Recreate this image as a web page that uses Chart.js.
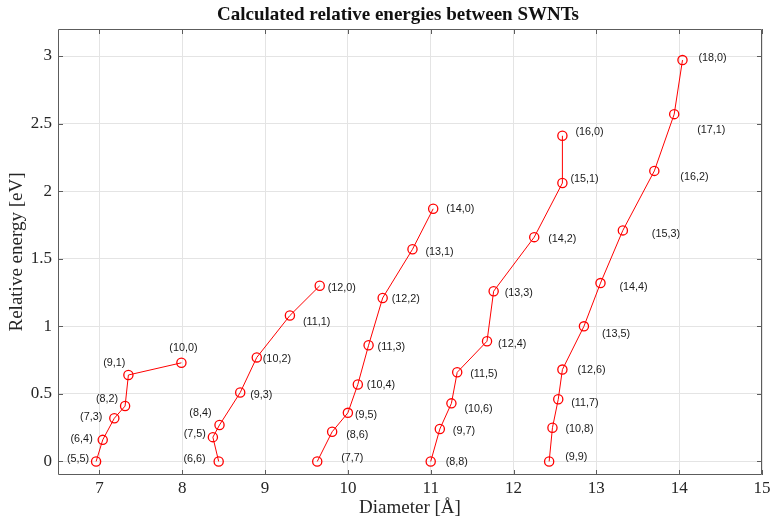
<!DOCTYPE html>
<html>
<head>
<meta charset="utf-8">
<script src="https://cdn.jsdelivr.net/npm/chart.js@4/dist/chart.umd.min.js"></script>
<style>
html,body{margin:0;padding:0;background:#fff;}
#wrap{width:774px;height:518px;}
</style>
</head>
<body>
<div id="wrap"><canvas id="c" width="774" height="518"></canvas></div>
<script>
// ---- Data ----
const xTicks = [7, 8, 9, 10, 11, 12, 13, 14, 15];
const yTicks = [0, 0.5, 1, 1.5, 2, 2.5, 3];

const s1Labels = ['(5,5)','(6,4)','(7,3)','(8,2)','(9,1)','(10,0)'];
const s1X = [6.96, 7.04, 7.18, 7.31, 7.35, 7.99];
const s1Y = [0, 0.16, 0.32, 0.41, 0.64, 0.73];

const s2Labels = ['(6,6)','(7,5)','(8,4)','(9,3)','(10,2)','(11,1)','(12,0)'];
const s2X = [8.44, 8.37, 8.45, 8.70, 8.90, 9.30, 9.66];
const s2Y = [0, 0.18, 0.27, 0.51, 0.77, 1.08, 1.30];

const s3Labels = ['(7,7)','(8,6)','(9,5)','(10,4)','(11,3)','(12,2)','(13,1)','(14,0)'];
const s3X = [9.63, 9.81, 10.00, 10.12, 10.25, 10.42, 10.78, 11.03];
const s3Y = [0, 0.22, 0.36, 0.57, 0.86, 1.21, 1.57, 1.87];

const s4Labels = ['(8,8)','(9,7)','(10,6)','(11,5)','(12,4)','(13,3)','(14,2)','(15,1)','(16,0)'];
const s4X = [11.00, 11.11, 11.25, 11.32, 11.68, 11.76, 12.25, 12.59, 12.59];
const s4Y = [0, 0.24, 0.43, 0.66, 0.89, 1.26, 1.66, 2.06, 2.41];

const s5Labels = ['(9,9)','(10,8)','(11,7)','(12,6)','(13,5)','(14,4)','(15,3)','(16,2)','(17,1)','(18,0)'];
const s5X = [12.43, 12.47, 12.54, 12.59, 12.85, 13.05, 13.32, 13.70, 13.94, 14.04];
const s5Y = [0, 0.25, 0.46, 0.68, 1.00, 1.32, 1.71, 2.15, 2.57, 2.97];

const seriesX = [s1X, s2X, s3X, s4X, s5X];
const seriesY = [s1Y, s2Y, s3Y, s4Y, s5Y];
const seriesLabels = [s1Labels, s2Labels, s3Labels, s4Labels, s5Labels];

// ---- Label placement (style only: pixel offsets from each marker) ----
const labelOffsets = [
  [['r',-7,-2],['r',-10,-1],['r',-12,-1],['r',-7,-7],['r',-3,-12],['c',2,-15]],
  [['r',-13,-2],['r',-7,-3],['r',-8,-12],['l',10,2],['l',6,2],['l',13,7],['l',8,2]],
  [['l',24,-3],['l',14,3],['l',7,2],['l',9,1],['l',9,2],['l',9,1],['l',13,3],['l',13,0]],
  [['l',15,1],['l',13,2],['l',13,6],['l',13,2],['l',11,3],['l',11,2],['l',14,2],['l',8,-4],['l',13,-4]],
  [['l',16,-4],['l',13,1],['l',13,4],['l',15,0],['l',18,8],['l',19,4],['l',29,4],['l',26,6],['l',23,16],['l',16,-2]]
];

const RED = '#ff0000';
const datasets = seriesX.map((xs, i) => ({
  data: xs.map((v, j) => ({x: v, y: seriesY[i][j]})),
  borderColor: RED,
  borderWidth: 1,
  pointRadius: 4.6,
  pointHoverRadius: 4.6,
  pointBorderWidth: 1.3,
  pointBorderColor: RED,
  pointBackgroundColor: 'rgba(0,0,0,0)',
  tension: 0,
  showLine: true,
  fill: false
}));

const BOX = '#5c5c5c';
const annot = {
  id: 'annot',
  afterDraw(chart) {
    const ctx = chart.ctx;
    const a = chart.chartArea;
    const xs = chart.scales.x, ys = chart.scales.y;
    ctx.save();
    // box
    ctx.strokeStyle = BOX;
    ctx.lineWidth = 1;
    ctx.beginPath();
    ctx.rect(Math.round(a.left) + 0.5, Math.round(a.top) + 0.5,
             Math.round(a.right - a.left) - 1, Math.round(a.bottom - a.top) - 1);
    ctx.stroke();
    // inward ticks
    const TL = 5;
    ctx.beginPath();
    xTicks.forEach(v => {
      const px = Math.round(xs.getPixelForValue(v)) + 0.5;
      ctx.moveTo(px, a.bottom); ctx.lineTo(px, a.bottom - TL);
      ctx.moveTo(px, a.top); ctx.lineTo(px, a.top + TL);
    });
    yTicks.forEach(v => {
      const py = Math.round(ys.getPixelForValue(v)) + 0.5;
      ctx.moveTo(a.left, py); ctx.lineTo(a.left + TL, py);
      ctx.moveTo(a.right, py); ctx.lineTo(a.right - TL, py);
    });
    ctx.stroke();

    // point labels
    ctx.fillStyle = '#1a1a1a';
    ctx.font = '10.8px "Liberation Sans", Arial, sans-serif';
    ctx.textBaseline = 'middle';
    chart.data.datasets.forEach((ds, i) => {
      const meta = chart.getDatasetMeta(i);
      meta.data.forEach((pt, j) => {
        const [al, dx, dy] = labelOffsets[i][j];
        ctx.textAlign = al === 'r' ? 'right' : (al === 'c' ? 'center' : 'left');
        ctx.fillText(seriesLabels[i][j], pt.x + dx, pt.y + dy);
      });
    });

    // titles
    ctx.fillStyle = '#111';
    ctx.textAlign = 'center';
    ctx.textBaseline = 'middle';
    ctx.font = 'bold 19px "Liberation Serif", "Times New Roman", serif';
    ctx.fillText('Calculated relative energies between SWNTs', (a.left + a.right) / 2 - 12, 15);
    ctx.fillStyle = '#262626';
    ctx.font = '19px "Liberation Serif", "Times New Roman", serif';
    ctx.fillText('Diameter [Å]', (a.left + a.right) / 2, 508);
    ctx.save();
    ctx.translate(17, (a.top + a.bottom) / 2);
    ctx.rotate(-Math.PI / 2);
    ctx.fillText('Relative energy [eV]', 0, 0);
    ctx.restore();
    ctx.restore();
  }
};

const tickFont = { family: '"Liberation Serif", "Times New Roman", serif', size: 17 };

new Chart(document.getElementById('c'), {
  type: 'scatter',
  data: { datasets },
  options: {
    responsive: false,
    devicePixelRatio: 1,
    animation: false,
    layout: { padding: { top: 29, right: 12, left: 0, bottom: 0 } },
    plugins: { legend: { display: false }, tooltip: { enabled: false }, title: { display: false } },
    scales: {
      x: {
        type: 'linear', min: 6.5, max: 15,
        afterBuildTicks: s => { s.ticks = xTicks.map(v => ({ value: v })); },
        afterFit: s => { s.height = 43; },
        grid: { color: '#e4e4e4', lineWidth: 1, drawTicks: false },
        border: { display: false },
        ticks: { padding: 3, color: '#262626', font: tickFont, callback: v => String(v) }
      },
      y: {
        type: 'linear', min: -0.1, max: 3.2,
        afterBuildTicks: s => { s.ticks = yTicks.map(v => ({ value: v })); },
        afterFit: s => { s.width = 58; },
        grid: { color: '#e4e4e4', lineWidth: 1, drawTicks: false },
        border: { display: false },
        ticks: { padding: 6, color: '#262626', font: tickFont, callback: v => String(v) }
      }
    }
  },
  plugins: [annot]
});
</script>
</body>
</html>
